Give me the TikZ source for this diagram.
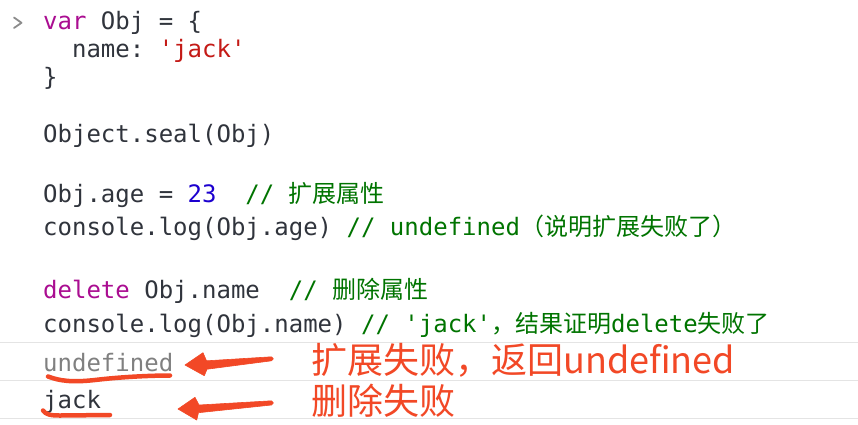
\documentclass[tikz,border=0pt]{standalone}
\usepackage{fontspec}
\setmonofont{DejaVu Sans Mono}
\newfontfamily\zhfont{Noto Sans CJK SC}
\definecolor{codefg}{RGB}{48,52,60}
\definecolor{kwcol}{RGB}{170,13,145}
\definecolor{strcol}{RGB}{196,26,22}
\definecolor{numcol}{RGB}{28,0,207}
\definecolor{cmtcol}{RGB}{0,116,0}
\definecolor{outgray}{RGB}{128,128,128}
\definecolor{redmark}{RGB}{242,72,38}
\definecolor{sepcol}{RGB}{228,228,228}
\definecolor{promptcol}{RGB}{140,140,140}
\newcommand\zh[1]{{\zhfont #1}}
\newcommand\kw[1]{\textcolor{kwcol}{#1}}
\newcommand\str[1]{\textcolor{strcol}{#1}}
\newcommand\num[1]{\textcolor{numcol}{#1}}
\newcommand\cmt[1]{\textcolor{cmtcol}{#1}}
\begin{document}
\begin{tikzpicture}[x=1pt,y=-1pt,
  code/.style={anchor=base west, inner sep=0pt, text=codefg,
    font=\ttfamily\fontsize{24}{24}\selectfont},
  note/.style={anchor=base west, inner sep=0pt, text=redmark,
    font=\zhfont\fontsize{36}{36}\selectfont},
  sepline/.style={draw=sepcol, line width=1pt},
  scribble/.style={draw=redmark, line width=4.5pt, line cap=round, line join=round},
  arrowshape/.style={fill=redmark, draw=redmark, line width=0.6pt, line join=round}]
\fill[white] (0,0) rectangle (858,424);
\useasboundingbox (0,0) rectangle (858,424);
% prompt chevron
\draw[promptcol, line width=1.8pt, line cap=round, line join=round]
  (14,17.5) -- (21.5,22.8) -- (14,28);
% code lines
\node[code] (l1) at (43,29) {\kw{var} Obj = \{};
\node[code] (l2) at (43,57.5) {~~name: \str{'jack'}};
\node[code] (l3) at (43,85) {\}};
\node[code] (l5) at (43,142) {Object.seal(Obj)};
\node[code] (l7) at (43,202) {Obj.age = \num{23}~~\cmt{// \zh{扩展属性}}};
\node[code] (l8) at (43,235) {console.log(Obj.age) \cmt{// undefined\zh{（说明扩展失败了）}}};
\node[code] (l10) at (43,298) {\kw{delete} Obj.name~~\cmt{// \zh{删除属性}}};
\node[code] (l11) at (43,332) {console.log(Obj.name) \cmt{// 'jack'\zh{，结果证明}delete\zh{失败了}}};
% separators
\draw[sepline] (0,342.5) -- (858,342.5);
\draw[sepline] (0,380.5) -- (858,380.5);
\draw[sepline] (0,418.5) -- (858,418.5);
% outputs
\node[code, text=outgray] (o1) at (43,371.5) {undefined};
\node[code] (o2) at (43,408) {jack};
% annotations
\node[note] (n1) at (311,373) {扩展失败，返回undefined};
\node[note] (n2) at (311,414) {删除失败};
% underlines
\draw[scribble] (48,376.5) .. controls (60,381) and (72,382.5) .. (95,380)
  .. controls (120,377) and (150,375.5) .. (170,375.5);
\draw[scribble] (43,410.5) .. controls (46,414.5) and (50,415.5) .. (60,415.5) -- (110,415);
% arrows
\coordinate (a1tip) at (185,365);
\coordinate (a2tip) at (178,409);
\path[arrowshape] (a1tip) -- (203,352.7) -- (206.5,360.8) -- (271.5,356.8)
  .. controls (274,357.2) and (274,360.5) .. (271.5,360.8)
  -- (207,369.2) -- (204.3,375.7) -- cycle;
\path[arrowshape] (a2tip) -- (195,397.3) -- (199,405) -- (271.5,400.8)
  .. controls (274,401.2) and (274,404.6) .. (271.5,405)
  -- (198.5,412.7) -- (196.7,420) -- cycle;
\end{tikzpicture}
\end{document}
